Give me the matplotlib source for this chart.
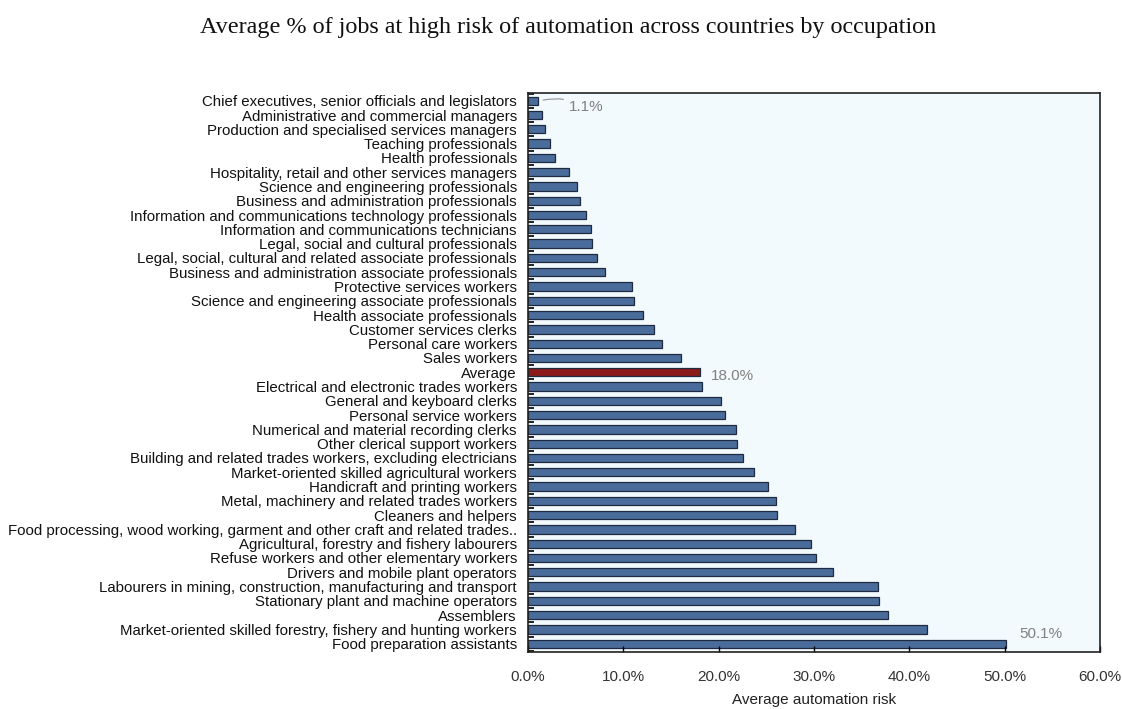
import matplotlib.pyplot as plt
import numpy as np

# occupations, top to bottom
occupations = [
    'Chief executives, senior officials and legislators',
    'Administrative and commercial managers',
    'Production and specialised services managers',
    'Teaching professionals',
    'Health professionals',
    'Hospitality, retail and other services managers',
    'Science and engineering professionals',
    'Business and administration professionals',
    'Information and communications technology professionals',
    'Information and communications technicians',
    'Legal, social and cultural professionals',
    'Legal, social, cultural and related associate professionals',
    'Business and administration associate professionals',
    'Protective services workers',
    'Science and engineering associate professionals',
    'Health associate professionals',
    'Customer services clerks',
    'Personal care workers',
    'Sales workers',
    'Average',
    'Electrical and electronic trades workers',
    'General and keyboard clerks',
    'Personal service workers',
    'Numerical and material recording clerks',
    'Other clerical support workers',
    'Building and related trades workers, excluding electricians',
    'Market-oriented skilled agricultural workers',
    'Handicraft and printing workers',
    'Metal, machinery and related trades workers',
    'Cleaners and helpers',
    'Food processing, wood working, garment and other craft and related trades..',
    'Agricultural, forestry and fishery labourers',
    'Refuse workers and other elementary workers',
    'Drivers and mobile plant operators',
    'Labourers in mining, construction, manufacturing and transport',
    'Stationary plant and machine operators',
    'Assemblers',
    'Market-oriented skilled forestry, fishery and hunting workers',
    'Food preparation assistants',
]
risk = [1.1, 1.5, 1.8, 2.3, 2.8, 4.3, 5.1, 5.5, 6.1, 6.6, 6.7, 7.2, 8.1,
        10.9, 11.1, 12.1, 13.2, 14.1, 16.1, 18.0, 18.2, 20.2, 20.7, 21.8,
        21.9, 22.5, 23.7, 25.2, 26.0, 26.1, 28.0, 29.7, 30.2, 32.0, 36.7,
        36.8, 37.8, 41.9, 50.1]
xticks = [0, 10, 20, 30, 40, 50, 60]

plt.rcParams['font.family'] = ['Liberation Sans', 'DejaVu Sans']

fig = plt.figure(figsize=(11.22, 7.09), dpi=100)
ax = fig.add_axes([0.4706, 0.081, 0.5098, 0.788])
ax.set_facecolor('#F3FAFD')

y = np.arange(len(occupations))
colors = ['#8B1A1A' if o == 'Average' else '#4A6C9B' for o in occupations]
ax.barh(y, risk, height=0.58, color=colors, edgecolor='#1E2A40', linewidth=0.9)

ax.set_ylim(len(occupations) - 0.45, -0.55)
ax.set_xlim(0, 60)
ax.set_yticks(y)
ax.set_yticklabels(occupations, fontsize=10.8, color='#111111')
ax.set_yticks(np.arange(len(occupations) + 1) - 0.5, minor=True)
ax.tick_params(axis='y', which='major', length=0, pad=8)
ax.tick_params(axis='y', which='minor', direction='in', length=4, width=1.2, color='black')
ax.set_xticks(xticks)
ax.set_xticklabels([f'{v:.1f}%' for v in xticks], fontsize=11, color='#333333')
ax.tick_params(axis='x', direction='in', length=4, width=1, pad=13)
ax.set_xlabel('Average automation risk', fontsize=11, color='#222222', labelpad=7)
for s in ax.spines.values():
    s.set_color('#222222')
    s.set_linewidth(1.2)

# value labels
ax.annotate(f'{risk[0]:.1f}%', xy=(risk[0] + 0.2, 0), xytext=(4.3, 0.45),
            fontsize=11, color='#808080', va='center',
            arrowprops=dict(arrowstyle='-', color='#909090', lw=0.8,
                            connectionstyle='arc3,rad=0.2'))
avg_i = occupations.index('Average')
ax.text(risk[avg_i] + 1.2, avg_i + 0.25, f'{risk[avg_i]:.1f}%', fontsize=11,
        color='#808080', va='center')
ax.text(risk[-1] + 1.4, len(occupations) - 1.65, f'{risk[-1]:.1f}%', fontsize=11,
        color='#808080', va='center')

fig.text(0.506, 0.961, 'Average % of jobs at high risk of automation across countries by occupation',
         ha='center', va='center', fontsize=17.4, family='Liberation Serif', color='#111111')

fig.savefig('out.png', dpi=100)
